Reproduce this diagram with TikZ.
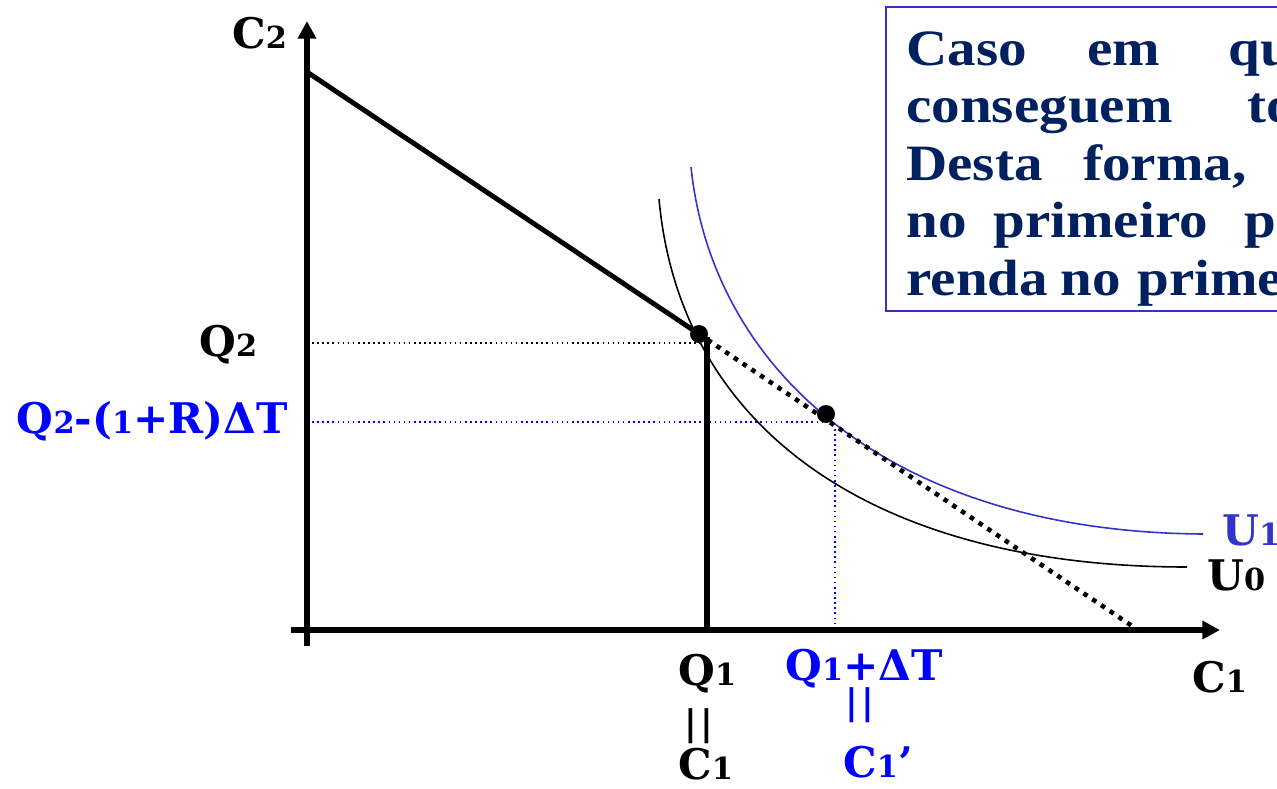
\documentclass[tikz,border=0pt]{standalone}
\usepackage{fontspec}
\setmainfont{Liberation Serif}
\newfontfamily\lblfont{DejaVu Serif}
\newfontfamily\boxfont{Liberation Serif}[FakeStretch=1.12]
\usetikzlibrary{arrows.meta}
\definecolor{mNavy}{HTML}{002060}
\definecolor{mBlue}{HTML}{0000FF}
\definecolor{mIndigo}{HTML}{3333CC}
\newcommand{\od}[1]{\scalebox{0.72}{#1}}

\begin{document}
\begin{tikzpicture}[x=0.02cm, y=-0.02cm,
  lbl/.style={font=\lblfont\bfseries\fontsize{24}{28}\selectfont, inner sep=0pt, anchor=base west},
  bars/.style={font=\lblfont\bfseries\fontsize{20}{24}\selectfont, inner sep=0pt},
  boxword/.style={font=\boxfont\bfseries\fontsize{29}{33}\selectfont, text=mNavy, inner sep=0pt, anchor=base west},
  axis/.style={line width=3.4pt, -{Triangle[length=10pt, width=10pt]}},
  guide/.style={line width=0.9pt, dotted},
  curve/.style={line width=0.9pt}]
  \useasboundingbox (0,0) rectangle (1277,788);
  \clip (0,0) rectangle (1277,788);

  % points
  \coordinate (O) at (307,630);
  \coordinate (xs) at (291,630);
  \coordinate (xe) at (1220,630);
  \coordinate (ys) at (307,646);
  \coordinate (ye) at (307,21);
  \coordinate (A) at (307,72);
  \coordinate (E) at (699,334);
  \coordinate (F) at (826,414);
  \coordinate (B) at (1138,630);
  \coordinate (Q1) at (707,630);
  \coordinate (Q1t) at (707,337);
  \coordinate (Q2) at (307,343);
  \coordinate (Q2e) at (700,343);
  \coordinate (Q2d) at (307,422);
  \coordinate (Fg) at (835,422);
  \coordinate (Fx) at (835,630);
  \coordinate (U0s) at (659,199);
  \coordinate (U0e) at (1187,567);
  \coordinate (U1s) at (691,167);
  \coordinate (U1e) at (1203,534);

  % guides
  \draw[guide] (Q2) -- (Q2e);
  \draw[guide, mBlue] (Q2d) -- (Fg) -- (Fx);

  % indifference curves
  \draw[curve] (U0s) .. controls (680,430) and (875,567) .. (U0e);
  \draw[curve, mIndigo] (U1s) .. controls (712,370) and (890,532) .. (U1e);

  % budget
  \draw[line width=2.8pt] (A) -- (E);
  \draw[line width=3.4pt] (Q1t) -- (Q1);
  \draw[line width=2.6pt, dash pattern=on 2.6pt off 3.4pt] (E) -- (B);

  % axes
  \draw[axis] (xs) -- (xe);
  \draw[axis] (ys) -- (ye);

  \fill (E) circle (9);
  \fill (F) circle (9);

  % labels
  \node[lbl] (c2) at (232,48) {C\od{2}};
  \node[lbl] (q2) at (199,356) {Q\od{2}};
  \node[lbl, text=mBlue, anchor=base east] (q2d) at (288,433) {Q\od{2}-(\od{1}+R)ΔT};
  \node[lbl] (q1) at (678,685) {Q\od{1}};
  \node[bars] (eq1) at (699,726) {|\hspace{2pt}|};
  \node[lbl] (c1a) at (678,779) {C\od{1}};
  \node[lbl, text=mBlue] (q1d) at (785,680) {Q\od{1}+ΔT};
  \node[bars, text=mBlue] (eq2) at (860,705) {|\hspace{2pt}|};
  \node[lbl, text=mBlue] (c1b) at (843,777) {C\od{1}’};
  \node[lbl] (c1) at (1192,692) {C\od{1}};
  \node[lbl] (u0) at (1207,590) {U\od{0}};
  \node[lbl, text=mIndigo] (u1) at (1222,545) {U\od{1}};

  % text box
  \draw[mIndigo, line width=1.2pt] (886,7) rectangle (1300,311);
  \foreach \w/\px/\py [count=\i] in {Caso/906/65, em/1087/65, qu/1228/65,
      conseguem/906/122, to/1247/122, Desta/906/180, {forma,}/1083/180,
      no/906/237, primeiro/993/237, p/1244/237,
      renda/906/295, no/1060/295, prime/1137/295}
    \node[boxword] (w\i) at (\px,\py) {\w};
\end{tikzpicture}
\end{document}
